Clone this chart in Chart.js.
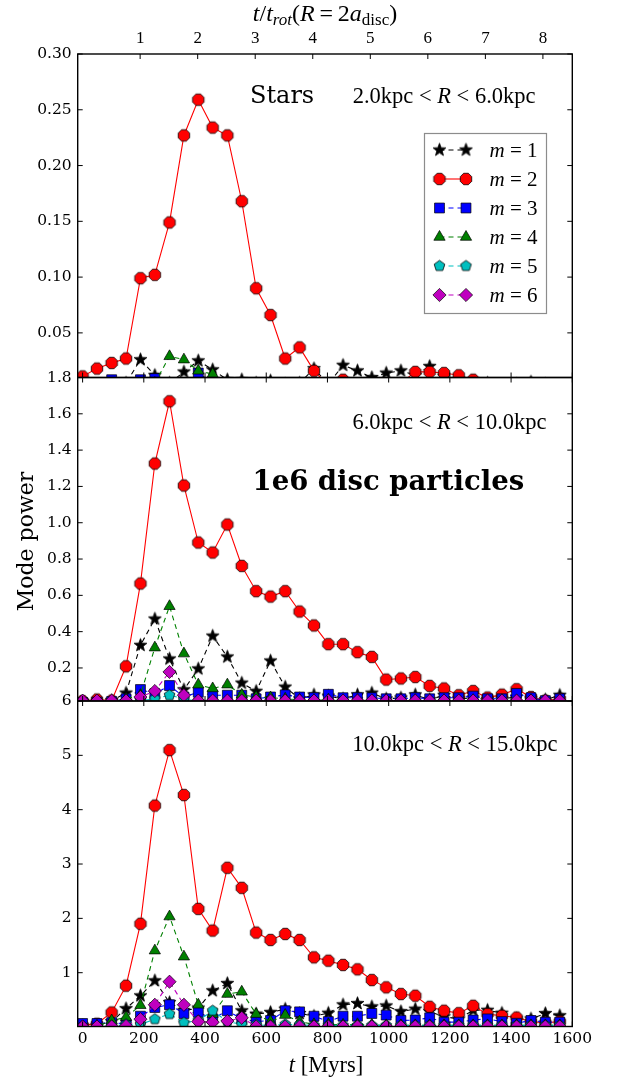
<!DOCTYPE html>
<html>
<head>
<meta charset="utf-8">
<title>Mode power</title>
<script src="https://cdn.jsdelivr.net/npm/chart.js@4.4.0/dist/chart.umd.min.js"></script>
<style>
  html, body { margin: 0; padding: 0; background: #fff; }
  #wrap { position: relative; width: 637px; height: 1080px; }
  #wrap canvas { position: absolute; left: 0; top: 0; }
</style>
</head>
<body>
<div id="wrap">
  <canvas id="panelInner" width="637" height="1080"></canvas>
  <canvas id="panelMid" width="637" height="1080"></canvas>
  <canvas id="panelOuter" width="637" height="1080"></canvas>
</div>
<script>
// ---- data ----
const TIMES = [0, 47, 95, 142, 189, 236, 284, 331, 378, 425, 473, 520, 567, 614, 662, 709, 756,
               803, 851, 898, 945, 992, 1040, 1087, 1134, 1181, 1229, 1276, 1323, 1370, 1418, 1465, 1512, 1559];
const MODES = [1, 2, 3, 4, 5, 6];
const X_TICKS = [0, 200, 400, 600, 800, 1000, 1200, 1400, 1600];
const T_ROT = 188;                       // Myr, t/t_rot(R = 2 a_disc)
const TOP_TICKS = [1, 2, 3, 4, 5, 6, 7, 8];

// stars, 2 < R < 6 kpc
const INNER_M1 = [0.004, 0.003, 0.004, 0.005, 0.026, 0.012, 0.005, 0.015, 0.025, 0.017, 0.008, 0.008, 0.005, 0.007, 0.004, 0.005, 0.018,
                  0.004, 0.021, 0.016, 0.010, 0.014, 0.016, 0.012, 0.020, 0.008, 0.005, 0.004, 0.005, 0.003, 0.004, 0.006, 0.004, 0.003];
const INNER_M2 = [0.011, 0.018, 0.023, 0.027, 0.099, 0.102, 0.149, 0.227, 0.259, 0.234, 0.227, 0.168, 0.090, 0.066, 0.027, 0.037, 0.016,
                  0.003, 0.008, 0.004, 0.003, 0.004, 0.005, 0.015, 0.015, 0.014, 0.012, 0.008, 0.004, 0.003, 0.004, 0.003, 0.003, 0.002];
const INNER_M3 = [0.003, 0.004, 0.008, 0.004, 0.008, 0.009, 0.004, 0.005, 0.014, 0.005, 0.003, 0.003, 0.002, 0.003, 0.002, 0.003, 0.002,
                  0.003, 0.002, 0.003, 0.002, 0.003, 0.002, 0.003, 0.002, 0.003, 0.002, 0.003, 0.002, 0.003, 0.002, 0.003, 0.002, 0.003];
const INNER_M4 = [0.003, 0.003, 0.003, 0.003, 0.003, 0.005, 0.029, 0.026, 0.016, 0.013, 0.005, 0.003, 0.003, 0.003, 0.003, 0.003, 0.003,
                  0.003, 0.003, 0.003, 0.003, 0.003, 0.003, 0.003, 0.003, 0.003, 0.003, 0.003, 0.003, 0.003, 0.003, 0.003, 0.003, 0.003];
const INNER_M5 = [0.002, 0.002, 0.002, 0.002, 0.003, 0.003, 0.003, 0.003, 0.002, 0.002, 0.002, 0.002, 0.002, 0.002, 0.002, 0.002, 0.002,
                  0.002, 0.002, 0.002, 0.002, 0.002, 0.002, 0.002, 0.002, 0.002, 0.002, 0.002, 0.002, 0.002, 0.002, 0.002, 0.002, 0.002];
const INNER_M6 = [0.002, 0.002, 0.002, 0.002, 0.003, 0.003, 0.003, 0.003, 0.003, 0.002, 0.002, 0.002, 0.002, 0.002, 0.002, 0.002, 0.002,
                  0.002, 0.002, 0.002, 0.002, 0.002, 0.002, 0.002, 0.002, 0.002, 0.002, 0.002, 0.002, 0.002, 0.002, 0.002, 0.002, 0.002];

// 6 < R < 10 kpc
const MID_M1 = [0.015, 0.012, 0.020, 0.062, 0.325, 0.470, 0.250, 0.080, 0.195, 0.376, 0.261, 0.117, 0.072, 0.239, 0.095, 0.030, 0.052,
                0.045, 0.030, 0.052, 0.062, 0.030, 0.035, 0.052, 0.025, 0.050, 0.030, 0.035, 0.025, 0.030, 0.040, 0.030, 0.025, 0.050];
const MID_M2 = [0.018, 0.026, 0.020, 0.209, 0.665, 1.326, 1.669, 1.205, 0.891, 0.836, 0.990, 0.762, 0.623, 0.593, 0.623, 0.511, 0.434,
                0.331, 0.331, 0.287, 0.261, 0.136, 0.142, 0.150, 0.101, 0.087, 0.050, 0.073, 0.037, 0.053, 0.083, 0.040, 0.020, 0.030];
const MID_M3 = [0.010, 0.012, 0.015, 0.030, 0.081, 0.058, 0.103, 0.040, 0.066, 0.050, 0.050, 0.050, 0.030, 0.040, 0.052, 0.040, 0.036,
                0.055, 0.036, 0.036, 0.036, 0.030, 0.030, 0.036, 0.030, 0.036, 0.036, 0.045, 0.030, 0.030, 0.060, 0.036, 0.020, 0.030];
const MID_M4 = [0.010, 0.010, 0.012, 0.030, 0.050, 0.312, 0.540, 0.279, 0.108, 0.087, 0.108, 0.052, 0.040, 0.037, 0.030, 0.025, 0.022,
                0.025, 0.020, 0.022, 0.020, 0.022, 0.020, 0.022, 0.020, 0.022, 0.020, 0.022, 0.020, 0.022, 0.020, 0.022, 0.020, 0.022];
const MID_M5 = [0.015, 0.015, 0.015, 0.015, 0.020, 0.030, 0.050, 0.030, 0.016, 0.015, 0.015, 0.015, 0.015, 0.015, 0.015, 0.015, 0.015,
                0.015, 0.015, 0.015, 0.015, 0.015, 0.015, 0.015, 0.015, 0.015, 0.015, 0.015, 0.015, 0.015, 0.015, 0.015, 0.015, 0.015];
const MID_M6 = [0.020, 0.020, 0.020, 0.020, 0.040, 0.073, 0.178, 0.050, 0.020, 0.020, 0.020, 0.020, 0.020, 0.020, 0.020, 0.020, 0.020,
                0.020, 0.020, 0.020, 0.020, 0.020, 0.020, 0.020, 0.020, 0.020, 0.020, 0.020, 0.020, 0.020, 0.020, 0.020, 0.020, 0.020];

// 10 < R < 15 kpc
const OUTER_M1 = [0.020, 0.030, 0.100, 0.340, 0.575, 0.852, 0.450, 0.300, 0.350, 0.668, 0.803, 0.300, 0.240, 0.270, 0.330, 0.250, 0.200,
                  0.256, 0.410, 0.434, 0.373, 0.390, 0.286, 0.330, 0.286, 0.190, 0.150, 0.310, 0.310, 0.256, 0.150, 0.150, 0.250, 0.210];
const OUTER_M2 = [0.030, 0.060, 0.268, 0.760, 1.900, 4.075, 5.096, 4.270, 2.174, 1.775, 2.931, 2.562, 1.738, 1.602, 1.713, 1.602, 1.283,
                  1.221, 1.142, 1.062, 0.865, 0.730, 0.607, 0.576, 0.373, 0.300, 0.256, 0.391, 0.238, 0.207, 0.175, 0.100, 0.080, 0.100];
const OUTER_M3 = [0.065, 0.065, 0.080, 0.060, 0.200, 0.360, 0.410, 0.250, 0.270, 0.150, 0.300, 0.150, 0.100, 0.120, 0.300, 0.280, 0.200,
                  0.100, 0.200, 0.200, 0.250, 0.220, 0.120, 0.130, 0.170, 0.090, 0.090, 0.130, 0.150, 0.100, 0.070, 0.120, 0.090, 0.090];
const OUTER_M4 = [0.010, 0.020, 0.120, 0.180, 0.400, 1.406, 2.033, 1.295, 0.410, 0.238, 0.607, 0.649, 0.238, 0.100, 0.220, 0.100, 0.050,
                  0.050, 0.040, 0.050, 0.040, 0.030, 0.030, 0.030, 0.030, 0.030, 0.030, 0.030, 0.030, 0.030, 0.030, 0.030, 0.030, 0.030];
const OUTER_M5 = [0.010, 0.010, 0.020, 0.050, 0.050, 0.145, 0.240, 0.080, 0.120, 0.300, 0.100, 0.050, 0.040, 0.030, 0.050, 0.040, 0.030,
                  0.030, 0.030, 0.030, 0.030, 0.030, 0.030, 0.030, 0.030, 0.030, 0.030, 0.030, 0.030, 0.030, 0.030, 0.030, 0.030, 0.030];
const OUTER_M6 = [0.010, 0.010, 0.010, 0.020, 0.145, 0.410, 0.834, 0.410, 0.100, 0.090, 0.110, 0.170, 0.010, 0.010, 0.010, 0.010, 0.010,
                  0.010, 0.010, 0.010, 0.010, 0.010, 0.010, 0.010, 0.010, 0.010, 0.010, 0.010, 0.010, 0.010, 0.010, 0.010, 0.010, 0.010];

const INNER_Y_TICKS = [0.05, 0.10, 0.15, 0.20, 0.25, 0.30];
const MID_Y_TICKS = [0.2, 0.4, 0.6, 0.8, 1.0, 1.2, 1.4, 1.6, 1.8];
const OUTER_Y_TICKS = [1, 2, 3, 4, 5, 6];

// ---- layout / style ----
const W = 637, H = 1080;
const PLOT_LEFT = 77.7, PLOT_RIGHT = 572.3;
const PANEL_EDGES = [54, 377.5, 701, 1026.5];
const X_MIN = -16, X_MAX = 1600;
const TICK_LEN = 5;
const TICK_FONT = { family: '"DejaVu Serif", serif', size: 15.5 };
const MATH = '"Liberation Serif", serif';

function markerSprite(kind, r, fill) {
  const size = Math.ceil(2 * r + 3);
  const c = document.createElement('canvas');
  c.width = size;
  c.height = size;
  const g = c.getContext('2d');
  g.translate(size / 2, size / 2);
  g.beginPath();
  if (kind === 'star') {
    for (let k = 0; k < 10; k++) {
      const a = -Math.PI / 2 + k * Math.PI / 5;
      const rr = k % 2 ? r * 0.42 : r;
      g.lineTo(rr * Math.cos(a), rr * Math.sin(a));
    }
  } else {
    const n = kind === 'octagon' ? 8 : 5;
    const rot = kind === 'octagon' ? Math.PI / 8 : -Math.PI / 2;
    for (let k = 0; k < n; k++) {
      const a = rot + k * 2 * Math.PI / n;
      g.lineTo(r * Math.cos(a), r * Math.sin(a));
    }
  }
  g.closePath();
  g.fillStyle = fill;
  g.fill();
  g.lineWidth = 0.8;
  g.strokeStyle = '#000';
  g.stroke();
  return c;
}

const MODE_STYLES = [
  { color: '#000000', marker: markerSprite('star', 6.8, '#000000'), radius: 6, dash: [5, 4] },
  { color: '#ff0000', marker: markerSprite('octagon', 6.2, '#ff0000'), radius: 6, dash: [] },
  { color: '#0000ff', marker: 'rect', radius: 7, dash: [5, 4] },
  { color: '#008000', marker: 'triangle', radius: 6.5, dash: [5, 4] },
  { color: '#00bfbf', marker: markerSprite('pentagon', 5.6, '#00bfbf'), radius: 5, dash: [5, 4] },
  { color: '#bf00bf', marker: 'rectRot', radius: 6.6, dash: [5, 4] }
];

function panelDatasets(series) {
  return MODES.map((m, k) => {
    const st = MODE_STYLES[k];
    return {
      label: 'm = ' + m,
      data: TIMES.map((t, i) => ({ x: t, y: series[k][i] })),
      borderColor: st.color,
      borderWidth: 1.1,
      borderDash: st.dash,
      pointStyle: st.marker,
      pointRadius: st.radius,
      pointBackgroundColor: st.color,
      pointBorderColor: '#000',
      pointBorderWidth: 0.7,
      tension: 0,
      fill: false,
      order: MODES.length - k
    };
  });
}

// text made of runs of different fonts (for roman / italic / subscripts)
function drawRuns(ctx, runs, x, y, align) {
  let total = 0;
  runs.forEach(r => { ctx.font = r.font; total += ctx.measureText(r.text).width; });
  let cx = align === 'right' ? x - total : align === 'center' ? x - total / 2 : x;
  runs.forEach(r => {
    ctx.font = r.font;
    ctx.fillText(r.text, cx, y + (r.dy || 0));
    cx += ctx.measureText(r.text).width;
  });
}

function rangeLabel(lo, hi, size) {
  const rm = size + 'px ' + MATH, it = 'italic ' + size + 'px ' + MATH;
  return [
    { text: lo + 'kpc', font: rm }, { text: ' < ', font: rm }, { text: 'R', font: it },
    { text: ' < ', font: rm }, { text: hi + 'kpc', font: rm }
  ];
}

// frame with inward ticks on all four sides
const framePlugin = {
  id: 'frame',
  afterDatasetsDraw(chart) {
    const { ctx, chartArea: a, scales } = chart;
    ctx.save();
    ctx.strokeStyle = '#000';
    ctx.lineWidth = 1;
    ctx.beginPath();
    scales.y.ticks.forEach(t => {
      const py = scales.y.getPixelForValue(t.value);
      ctx.moveTo(a.left, py); ctx.lineTo(a.left + TICK_LEN, py);
      ctx.moveTo(a.right, py); ctx.lineTo(a.right - TICK_LEN, py);
    });
    X_TICKS.forEach(v => {
      const px = scales.x.getPixelForValue(v);
      ctx.moveTo(px, a.bottom); ctx.lineTo(px, a.bottom - TICK_LEN);
      if (!scales.x2) { ctx.moveTo(px, a.top); ctx.lineTo(px, a.top + TICK_LEN); }
    });
    if (scales.x2) {
      scales.x2.ticks.forEach(t => {
        const px = scales.x2.getPixelForValue(t.value);
        ctx.moveTo(px, a.top); ctx.lineTo(px, a.top + TICK_LEN);
      });
    }
    ctx.stroke();
    ctx.lineWidth = 1.4;
    ctx.strokeRect(a.left, a.top, a.right - a.left, a.bottom - a.top);
    ctx.restore();
  }
};

function textPlugin(draw) {
  return { id: 'panelText', afterDraw(chart) {
    const ctx = chart.ctx;
    ctx.save();
    ctx.fillStyle = '#000';
    ctx.textBaseline = 'alphabetic';
    draw(ctx, chart);
    ctx.restore();
  } };
}

// legend box in the top panel, markers drawn with Chart.js' own point routine
function drawLegend(ctx, chart) {
  const box = { x: 424.5, y: 133.5, w: 122, h: 180 };
  ctx.fillStyle = '#fff';
  ctx.fillRect(box.x, box.y, box.w, box.h);
  ctx.strokeStyle = '#8c8c8c';
  ctx.lineWidth = 1.2;
  ctx.strokeRect(box.x, box.y, box.w, box.h);
  chart.data.datasets.forEach((ds, k) => {
    const y = 150 + k * 29;
    const x1 = 439.5, x2 = 466;
    ctx.save();
    ctx.strokeStyle = ds.borderColor;
    ctx.lineWidth = ds.borderWidth;
    ctx.setLineDash(ds.borderDash);
    ctx.beginPath(); ctx.moveTo(x1, y); ctx.lineTo(x2, y); ctx.stroke();
    ctx.setLineDash([]);
    ctx.fillStyle = ds.pointBackgroundColor;
    ctx.strokeStyle = ds.pointBorderColor;
    ctx.lineWidth = ds.pointBorderWidth;
    const opts = { pointStyle: ds.pointStyle, rotation: 0, radius: ds.pointRadius, borderWidth: ds.pointBorderWidth };
    Chart.helpers.drawPoint(ctx, opts, x1, y);
    Chart.helpers.drawPoint(ctx, opts, x2, y);
    ctx.restore();
    ctx.fillStyle = '#000';
    drawRuns(ctx, [
      { text: 'm', font: 'italic 21px ' + MATH },
      { text: ' = ' + MODES[k], font: '21px ' + MATH }
    ], 489.5, y + 7, 'left');
  });
}

function makePanel(id, cfg) {
  const scales = {
    x: {
      type: 'linear', min: X_MIN, max: X_MAX, position: 'bottom',
      display: cfg.showX,
      grid: { display: false, drawTicks: false }, border: { display: false },
      afterBuildTicks: s => { s.ticks = X_TICKS.map(v => ({ value: v })); },
      afterFit: s => { s.height = cfg.showX ? H - PANEL_EDGES[3] : 0; },
      ticks: { font: TICK_FONT, color: '#000', padding: 3, autoSkip: false, maxRotation: 0,
               callback: v => String(v) }
    },
    y: {
      type: 'linear', min: cfg.yMin, max: cfg.yMax,
      grid: { display: false, drawTicks: false }, border: { display: false },
      afterBuildTicks: s => { s.ticks = cfg.yTicks.map(v => ({ value: v })); },
      afterFit: s => { s.width = PLOT_LEFT; },
      ticks: { font: TICK_FONT, color: '#000', padding: 6, autoSkip: false, callback: cfg.yFormat }
    }
  };
  if (cfg.topAxis) {
    scales.x2 = {
      type: 'linear', axis: 'x', position: 'top', min: X_MIN, max: X_MAX,
      grid: { display: false, drawTicks: false }, border: { display: false },
      afterBuildTicks: s => { s.ticks = TOP_TICKS.map(k => ({ value: k * T_ROT })); },
      afterFit: s => { s.height = PANEL_EDGES[0]; },
      ticks: { font: { family: MATH, size: 17 }, color: '#000', padding: 5, autoSkip: false, maxRotation: 0,
               callback: (v, i) => String(TOP_TICKS[i]) }
    };
  }
  return new Chart(document.getElementById(id), {
    type: 'line',
    data: { datasets: panelDatasets(cfg.series) },
    options: {
      responsive: false,
      animation: false,
      layout: { padding: { left: 0, right: W - PLOT_RIGHT, top: cfg.padTop, bottom: cfg.padBottom } },
      scales: scales,
      plugins: { legend: { display: false }, tooltip: { enabled: false } }
    },
    plugins: [framePlugin, textPlugin(cfg.text)]
  });
}

makePanel('panelInner', {
  series: [INNER_M1, INNER_M2, INNER_M3, INNER_M4, INNER_M5, INNER_M6],
  yMin: 0.01, yMax: 0.30, yTicks: INNER_Y_TICKS, yFormat: v => v.toFixed(2),
  padTop: 0, padBottom: H - PANEL_EDGES[1], showX: false, topAxis: true,
  text: (ctx, chart) => {
    ctx.font = '24px "DejaVu Serif", serif';
    ctx.fillText('Stars', 250, 103);
    drawRuns(ctx, rangeLabel('2.0', '6.0', 22.5), 535.5, 103, 'right');
    const rm = '24px ' + MATH, it = 'italic 24px ' + MATH;
    const sIt = 'italic 17px ' + MATH, sRm = '17px ' + MATH;
    drawRuns(ctx, [
      { text: 't', font: it }, { text: '/', font: rm }, { text: 't', font: it },
      { text: 'rot', font: sIt, dy: 4 }, { text: '(', font: rm }, { text: 'R', font: it },
      { text: '\u2009=\u2009', font: rm }, { text: '2', font: rm }, { text: 'a', font: it },
      { text: 'disc', font: sRm, dy: 4 }, { text: ')', font: rm }
    ], 325, 21, 'center');
    drawLegend(ctx, chart);
  }
});

makePanel('panelMid', {
  series: [MID_M1, MID_M2, MID_M3, MID_M4, MID_M5, MID_M6],
  yMin: 0.018, yMax: 1.8, yTicks: MID_Y_TICKS, yFormat: v => v.toFixed(1),
  padTop: PANEL_EDGES[1], padBottom: H - PANEL_EDGES[2], showX: false, topAxis: false,
  text: ctx => {
    drawRuns(ctx, rangeLabel('6.0', '10.0', 22.5), 546.5, 428.5, 'right');
    ctx.font = 'bold 27.5px "DejaVu Serif", serif';
    ctx.fillText('1e6 disc particles', 252.5, 490);
    ctx.save();
    ctx.translate(27, 541.5);
    ctx.rotate(-Math.PI / 2);
    ctx.textAlign = 'center';
    ctx.textBaseline = 'middle';
    ctx.font = '22px "DejaVu Serif", serif';
    ctx.fillText('Mode power', 0, 0);
    ctx.restore();
  }
});

makePanel('panelOuter', {
  series: [OUTER_M1, OUTER_M2, OUTER_M3, OUTER_M4, OUTER_M5, OUTER_M6],
  yMin: 0.01, yMax: 6, yTicks: OUTER_Y_TICKS, yFormat: v => String(v),
  padTop: PANEL_EDGES[2], padBottom: 0, showX: true, topAxis: false,
  text: ctx => {
    drawRuns(ctx, rangeLabel('10.0', '15.0', 22.5), 557.5, 751, 'right');
    drawRuns(ctx, [
      { text: 't', font: 'italic 22.5px ' + MATH },
      { text: ' [Myrs]', font: '22.5px ' + MATH }
    ], 326, 1072, 'center');
  }
});
</script>
</body>
</html>
